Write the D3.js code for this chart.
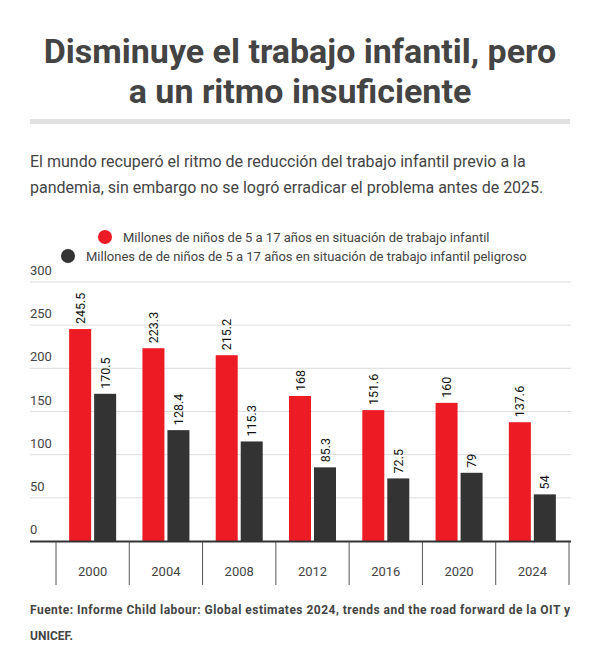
<!DOCTYPE html>
<html><head><meta charset="utf-8">
<script src="https://cdn.jsdelivr.net/npm/d3@7"></script>
<style>body{margin:0;background:#fff;font-family:Roboto,sans-serif}</style>
</head><body><svg id="c" width="600" height="671"></svg>
<script>
const years=["2000","2004","2008","2012","2016","2020","2024"];
const infantil=[245.5,223.3,215.2,168,151.6,160,137.6];
const peligroso=[170.5,128.4,115.3,85.3,72.5,79,54];
const yTicks=[0,50,100,150,200,250,300];
const seriesNames=["Millones de niños de 5 a 17 años en situación de trabajo infantil","Millones de de niños de 5 a 17 años en situación de trabajo infantil peligroso"];
const colors=["#ed1c24","#333333"];

const svg=d3.select("#c");
const tc="#444";
svg.append("text").attr("x",300).attr("y",63).attr("text-anchor","middle").attr("font-size",34).attr("font-weight",700).attr("fill",tc).text("Disminuye el trabajo infantil, pero");
svg.append("text").attr("x",300).attr("y",103).attr("text-anchor","middle").attr("font-size",34).attr("font-weight",700).attr("fill",tc).text("a un ritmo insuficiente");
svg.append("rect").attr("x",30).attr("y",119).attr("width",540).attr("height",5).attr("fill","#e0e0e0");
svg.append("text").attr("x",30).attr("y",167).attr("font-size",16).attr("fill",tc).text("El mundo recuperó el ritmo de reducción del trabajo infantil previo a la");
svg.append("text").attr("x",30).attr("y",193).attr("font-size",16).attr("fill",tc).text("pandemia, sin embargo no se logró erradicar el problema antes de 2025.");

const leg=[[105,237],[68,256]];
seriesNames.forEach((n,i)=>{
  svg.append("circle").attr("cx",leg[i][0]).attr("cy",leg[i][1]).attr("r",7).attr("fill",colors[i]);
  svg.append("text").attr("x",leg[i][0]+18).attr("y",leg[i][1]+5).attr("font-size",13).attr("fill",tc).text(n);
});

const y=d3.scaleLinear().domain([0,300]).range([541,282]);
const x=d3.scaleBand().domain(years).range([56,569]);
const left=30,right=571;
yTicks.forEach(t=>{
  if(t>0) svg.append("line").attr("x1",left).attr("x2",right).attr("y1",y(t)).attr("y2",y(t)).attr("stroke","#ddd");
  svg.append("text").attr("x",left).attr("y",y(t)-7).attr("font-size",13).attr("fill",tc).text(t);
});
const bw=22;
years.forEach((yr,i)=>{
  const x0=x(yr)+x.bandwidth()/2;
  [[infantil[i],x0-bw-1.5,0],[peligroso[i],x0+1.5,1]].forEach(([v,bx,s])=>{
    svg.append("rect").attr("x",bx).attr("y",y(v)).attr("width",bw).attr("height",y(0)-y(v)).attr("fill",colors[s]);
    svg.append("text").attr("transform",`translate(${bx+bw/2+4.5},${y(v)-5}) rotate(-90)`).attr("font-size",12.5).attr("fill","#111").text(v);
  });
});
svg.append("line").attr("x1",left).attr("x2",right).attr("y1",541.5).attr("y2",541.5).attr("stroke","#333").attr("stroke-width",2);
years.concat(["end"]).forEach((yr,i)=>{
  const xx=i<years.length?x(yr):569;
  svg.append("line").attr("x1",xx).attr("x2",xx).attr("y1",542).attr("y2",585).attr("stroke","#555");
});
years.forEach(yr=>svg.append("text").attr("x",x(yr)+x.bandwidth()/2).attr("y",576).attr("text-anchor","middle").attr("font-size",13).attr("fill",tc).text(yr));
svg.append("text").attr("x",30).attr("y",614).attr("font-size",12).attr("font-weight",700).attr("fill",tc).attr("textLength",540).attr("lengthAdjust","spacing").text("Fuente: Informe Child labour: Global estimates 2024, trends and the road forward de la OIT y");
svg.append("text").attr("x",30).attr("y",640).attr("font-size",12).attr("font-weight",700).attr("fill",tc).text("UNICEF.");
</script></body></html>
